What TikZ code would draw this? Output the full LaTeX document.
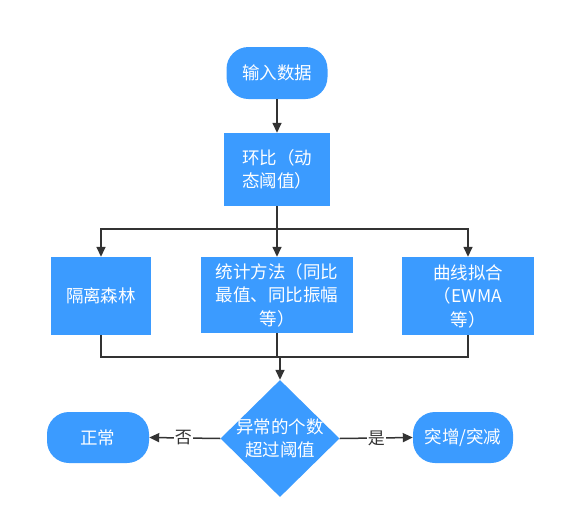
\documentclass[tikz,border=0pt]{standalone}
\usepackage{fontspec}
\newfontfamily\cjk{Noto Sans CJK SC}
\usetikzlibrary{arrows.meta,shapes.geometric}
\definecolor{boxblue}{RGB}{59,155,255}
\definecolor{linegray}{RGB}{51,51,51}
\tikzset{
  base/.style={fill=boxblue,draw=none,text=white,align=center,font=\cjk\fontsize{17.5}{23.5}\selectfont,inner sep=0pt},
  term/.style={base,rounded corners=22pt,minimum width=101pt,minimum height=52pt},
  proc/.style={base,minimum height=78pt},
  dec/.style={fill=boxblue,draw=none,shape=diamond,minimum width=119pt,minimum height=117pt,inner sep=0pt},
  dectext/.style={text=white,align=center,font=\cjk\fontsize{17.5}{23.5}\selectfont,inner sep=0pt},
  conn/.style={draw=linegray,line width=1.5pt},
  arr/.style={conn,-{Triangle[length=10pt,width=9pt]}},
  lab/.style={fill=white,text=linegray,font=\cjk\fontsize{17}{20}\selectfont,inner sep=1pt}
}
\begin{document}
\begin{tikzpicture}[x=1pt,y=-1pt]
\useasboundingbox (0,0) rectangle (566,528);
\node[term] (in) at (277,73) {输入数据};
\node[proc,minimum width=106pt,minimum height=73pt] (hb) at (277,169.5) {环比（动\\态阈值）};
\node[proc,minimum width=100pt] (gl) at (101,296) {隔离森林};
\node[proc,minimum width=152pt,minimum height=76pt] (tj) at (277,295) {统计方法（同比\\最值、同比振幅\\等）};
\node[proc,minimum width=132pt] (qx) at (468,296) {曲线拟合\\（EWMA\\等）};
\node[dec] (dm) at (280,438.5) {};
\node[dectext] (dmt) at (dm.center) {异常的个数\\超过阈值};
\node[term,minimum width=102pt,minimum height=51pt] (zc) at (98,437.5) {正常};
\node[term,minimum width=100pt,minimum height=51pt] (tz) at (463,437.5) {突增/突减};
\coordinate (j1) at (277,229);
\coordinate (j2) at (280,357);
\draw[arr] (in) -- (hb);
\draw[conn] (hb.south) -- (j1);
\draw[arr] (j1) -| (gl.north);
\draw[arr] (j1) -| (qx.north);
\draw[arr] (j1) -- (tj.north);
\draw[conn] (gl.south) |- (j2);
\draw[conn] (qx.south) |- (j2);
\draw[conn] (tj.south) -- (tj.south |- j2);
\draw[arr] (j2) -- (dm.north);
\draw[arr] (dm.west) -- node[lab,pos=0.52] (no) {否} (zc.east);
\draw[arr] (dm.east) -- node[lab,pos=0.5] (yes) {是} (tz.west);
\end{tikzpicture}
\end{document}
